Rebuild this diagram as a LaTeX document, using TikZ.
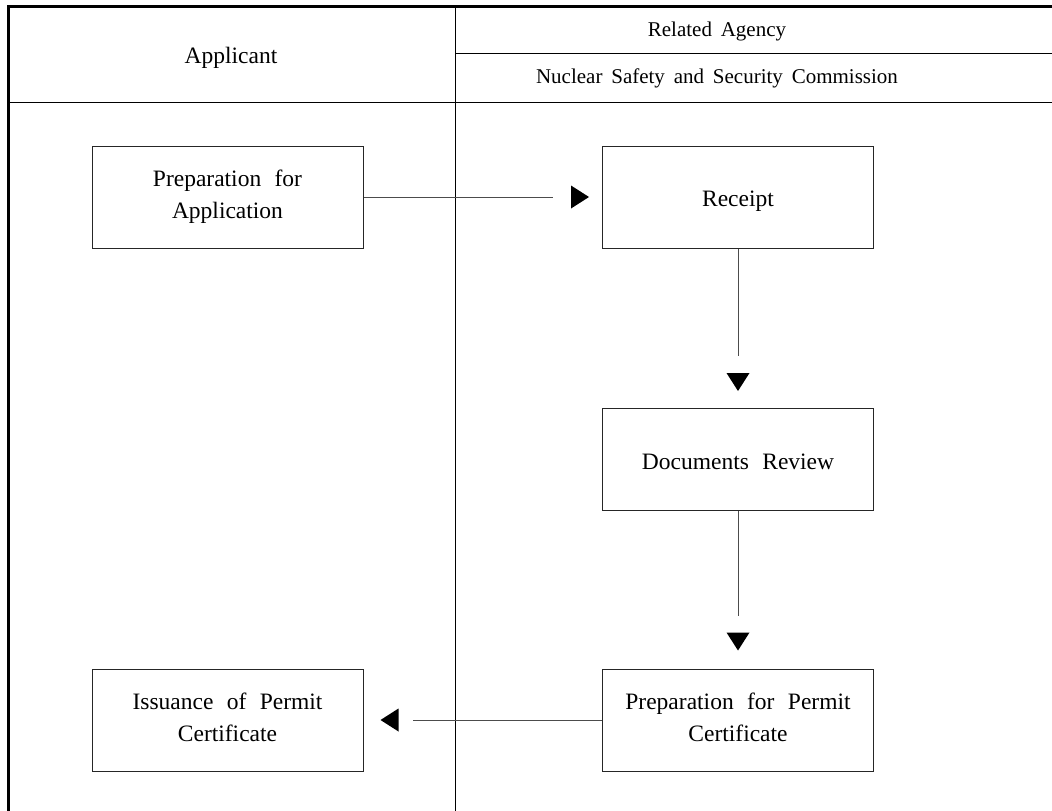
\documentclass[tikz,border=0pt]{standalone}
\usepackage{fontspec}
\setmainfont{Liberation Serif}
\usetikzlibrary{calc}
% text styles for the step boxes and the lane headings
\newcommand\stepfont{\fontsize{23.5}{32}\selectfont\spaceskip=0.57em plus 0.1em\relax}
\newcommand\lanefont{\fontsize{23.5}{32}\selectfont}
\newcommand\agencyfont{\fontsize{21}{30}\selectfont\spaceskip=0.42em plus 0.1em\relax}
\begin{document}
\begin{tikzpicture}[x=1pt,y=-1pt,
  stepbox/.style={draw=black!85, line width=1pt, minimum width=271pt, minimum height=102pt,
    align=center, inner sep=0pt, font=\stepfont,
    execute at begin node=\rule{0pt}{25pt},
    execute at end node=\rule[-6pt]{0pt}{6pt}},
  twoline/.style={execute at begin node=\rule{0pt}{33pt}},
  heading/.style={inner sep=0pt, anchor=base},
  frame/.style={line width=3pt},
  rule/.style={line width=1pt},
  flow/.style={line width=1pt, draw=black!70},
  tip/.style={fill=black}
]
\useasboundingbox (0,0) rectangle (1052,811);

% outer frame (left and top edges) and lane grid
\draw[frame] (8,811) -- (8,6.5) -- (1052,6.5);
\draw[rule] (455,6.5) -- (455,811);
\draw[rule] (455,53) -- (1052,53);
\draw[rule] (8,102) -- (1052,102);

% lane headings
\node[heading, font=\lanefont] (hApp) at (231,63) {Applicant};
\node[heading, font=\agencyfont] (hAgency) at (717,36) {Related Agency};
\node[heading, font=\agencyfont] (hNSSC) at (717,83) {Nuclear Safety and Security Commission};

% process steps
\node[stepbox, twoline] (prep)    at (227.5,197)   {Preparation for\\Application};
\node[stepbox]          (receipt) at (738,197)     {Receipt};
\node[stepbox]          (review)  at (738,459.5)   {Documents Review};
\node[stepbox, twoline] (permit)  at (738,720)     {Preparation for Permit\\Certificate};
\node[stepbox, twoline] (issue)   at (227.5,720)   {Issuance of Permit\\Certificate};

% connectors: a line, then a detached triangular head before the target
\draw[flow] (prep.east) -- ([xshift=-49pt]receipt.west);
\fill[tip] ([xshift=-13pt]receipt.west) -- ++(-18,-11.5) -- ++(0,23) -- cycle;

\draw[flow] (receipt.south) -- ([yshift=52pt]review.north);
\fill[tip] ([yshift=17pt]review.north) -- ++(-11.5,-18) -- ++(23,0) -- cycle;

\draw[flow] (review.south) -- ([yshift=53pt]permit.north);
\fill[tip] ([yshift=18pt]permit.north) -- ++(-11.5,-18) -- ++(23,0) -- cycle;

\draw[flow] (permit.west) -- ([xshift=49pt]issue.east);
\fill[tip] ([xshift=17pt]issue.east) -- ++(18,-11.5) -- ++(0,23) -- cycle;
\end{tikzpicture}
\end{document}
